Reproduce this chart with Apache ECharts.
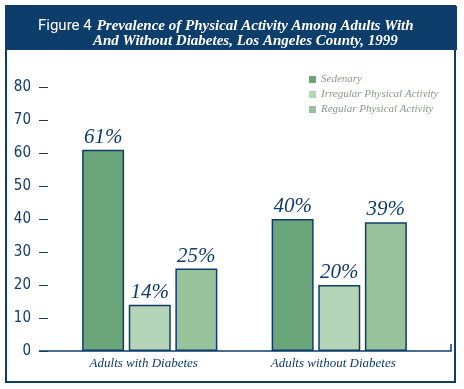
<!DOCTYPE html>
<html>
<head>
<meta charset="utf-8">
<script src="https://cdn.jsdelivr.net/npm/echarts@6/dist/echarts.min.js"></script>
<style>
html,body{margin:0;padding:0;background:#fff;}
#main{width:464px;height:389px;}
</style>
</head>
<body>
<div id="main"></div>
<script>
const categories = ['Adults with Diabetes', 'Adults without Diabetes'];
const seriesNames = ['Sedenary', 'Irregular Physical Activity', 'Regular Physical Activity'];
const sedentary = [61, 40];
const irregular = [14, 20];
const regular = [25, 39];
const yTicks = [0, 10, 20, 30, 40, 50, 60, 70, 80];

const NAVY = '#0f3d6b';
const colors = ['#6aa67a', '#b4d5b8', '#97c29c'];
const values = [sedentary, irregular, regular];

const chart = echarts.init(document.getElementById('main'), null, {renderer: 'canvas'});

const series = seriesNames.map((name, i) => ({
  name: name,
  type: 'bar',
  data: values[i],
  barWidth: 42,
  barGap: '11%',
  itemStyle: {color: colors[i], borderColor: NAVY, borderWidth: 1.5},
  label: {
    show: true,
    position: 'top',
    distance: 2,
    formatter: '{c}%',
    color: NAVY,
    fontFamily: 'Liberation Serif',
    fontStyle: 'italic',
    fontSize: 21
  }
}));

chart.setOption({
  animation: false,
  backgroundColor: '#fff',
  title: [{
    left: 38, top: 17, padding: 0,
    text: '{a|Figure 4} {b|Prevalence of Physical Activity Among Adults With}',
    textStyle: {
      rich: {
        a: {fontFamily: 'Roboto', fontSize: 15, color: '#fff', fontWeight: 'normal'},
        b: {fontFamily: 'Liberation Serif', fontStyle: 'italic', fontWeight: 'bold', fontSize: 15, color: '#fff'}
      }
    }
  }, {
    left: 93, top: 34, padding: 0,
    text: 'And Without Diabetes, Los Angeles County, 1999',
    textStyle: {fontFamily: 'Liberation Serif', fontStyle: 'italic', fontWeight: 'bold', fontSize: 15, color: '#fff'}
  }],
  legend: {
    orient: 'vertical',
    left: 309, top: 74, padding: 0,
    icon: 'rect',
    itemWidth: 7, itemHeight: 7,
    itemGap: 4,
    itemStyle: {borderWidth: 0},
    textStyle: {fontFamily: 'Liberation Serif', fontStyle: 'italic', fontSize: 11, lineHeight: 11, color: '#8a968e'},
    data: seriesNames
  },
  grid: {left: 55, right: 30, top: 87, bottom: 38},
  xAxis: {
    type: 'category',
    data: categories,
    axisLine: {show: false},
    axisTick: {show: false},
    axisLabel: {margin: 6, color: NAVY, fontFamily: 'Liberation Serif', fontStyle: 'italic', fontSize: 13, padding: [0, 12, 0, 0]}
  },
  yAxis: {
    type: 'value',
    min: yTicks[0], max: yTicks[yTicks.length - 1], interval: 10,
    offset: 7,
    splitLine: {show: false},
    axisLine: {show: false},
    axisTick: {show: true, length: 9, lineStyle: {color: NAVY, width: 1}},
    axisLabel: {margin: 17, color: NAVY, fontFamily: 'DejaVu Sans Condensed', fontSize: 15}
  },
  graphic: [
    {type: 'rect', z: -10, shape: {x: 5, y: 6, width: 452, height: 44}, style: {fill: '#0d3d6b'}},
    {type: 'rect', z: -10, shape: {x: 6, y: 6, width: 449, height: 376}, style: {fill: 'none', stroke: '#0d3d6b', lineWidth: 2}},
    {type: 'polyline', z: 10, shape: {points: [[39, 351], [451, 351], [451, 344]]}, style: {fill: 'none', stroke: NAVY, lineWidth: 1.5}}
  ],
  series: series
});
</script>
</body>
</html>
